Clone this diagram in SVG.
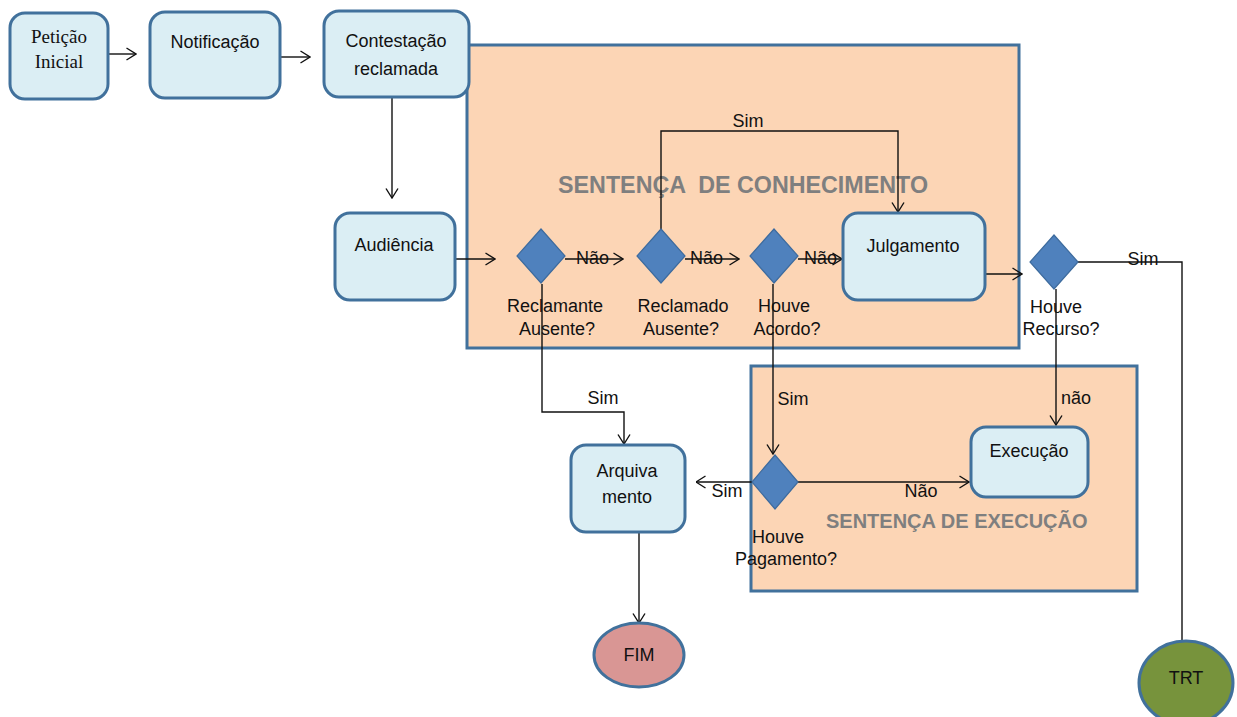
<svg xmlns="http://www.w3.org/2000/svg" width="1237" height="717" viewBox="0 0 1237 717">
<style>
.box{fill:#DBEEF4;stroke:#41719C;stroke-width:3}
.cont{fill:#FCD5B5;stroke:#41719C;stroke-width:3}
.dia{fill:#4F81BD;stroke:#3D6B9E;stroke-width:1.2}
.t{font-family:"Liberation Sans",Arial,sans-serif;font-size:18px;fill:#111}
.c{text-anchor:middle}
.serif{font-family:"Liberation Serif","Times New Roman",serif;font-size:19px;fill:#111}
.title{font-family:"Liberation Sans",Arial,sans-serif;font-weight:bold;fill:#7F7F7F;white-space:pre}
.ln{fill:none;stroke:#111;stroke-width:1.4}
.arr{marker-end:url(#ah)}
</style>
<defs>
<marker id="ah" viewBox="0 0 11 14" refX="10.5" refY="7" markerWidth="11" markerHeight="14" markerUnits="userSpaceOnUse" orient="auto">
<path d="M1,1 L10.5,7 L1,13" fill="none" stroke="#111" stroke-width="1.4"/>
</marker>
</defs>

<g id="sentenca-conhecimento">
<rect class="cont" x="467" y="45" width="552" height="303"/>
<text class="title" x="558" y="193" font-size="23" textLength="370" lengthAdjust="spacingAndGlyphs">SENTENÇA  DE CONHECIMENTO</text>
</g>
<g id="sentenca-execucao">
<rect class="cont" x="751" y="366" width="386" height="225"/>
<text class="title" x="826" y="528" font-size="20">SENTENÇA DE EXECUÇÃO</text>
</g>

<g id="connectors">
<path class="ln arr" d="M109,54 L136,54"/>
<path class="ln arr" d="M280,57 L310,57"/>
<path class="ln arr" d="M392,97 L392,198"/>
<path class="ln arr" d="M455,259 L495,259"/>
<path class="ln arr" d="M565,259 L623,259"/>
<text class="t" x="576" y="264">Não</text>
<path class="ln arr" d="M685,259 L739,259"/>
<text class="t" x="690" y="264">Não</text>
<path class="ln arr" d="M798,259 L842,259"/>
<text class="t" x="804" y="264">Não</text>
<path class="ln arr" d="M661,229 L661,131 L898,131 L898,212"/>
<text class="t c" x="748" y="127">Sim</text>
<path class="ln arr" d="M985,274 L1022,274"/>
<path class="ln" d="M1078,262 L1182,262 L1182,641"/>
<text class="t c" x="1143" y="265">Sim</text>
<path class="ln arr" d="M1056,289 L1056,425"/>
<text class="t" x="1061" y="404">não</text>
<path class="ln arr" d="M542,284 L542,412 L624,412 L624,444"/>
<text class="t c" x="603" y="404">Sim</text>
<path class="ln arr" d="M773,284 L773,454"/>
<text class="t c" x="793" y="405">Sim</text>
<path class="ln arr" d="M752,482 L696,482"/>
<text class="t c" x="727" y="497">Sim</text>
<path class="ln arr" d="M798,482 L969,482"/>
<text class="t c" x="921" y="497">Não</text>
<path class="ln arr" d="M639,532 L639,623"/>
</g>

<g id="peticao-inicial">
<rect class="box" x="10" y="13" width="98" height="86" rx="15"/>
<text class="serif c" x="59" y="43">Petição</text>
<text class="serif c" x="59" y="68">Inicial</text>
</g>
<g id="notificacao">
<rect class="box" x="150" y="12" width="130" height="86" rx="15"/>
<text class="t c" x="215" y="48">Notificação</text>
</g>
<g id="contestacao">
<rect class="box" x="324" y="11" width="145" height="86" rx="15"/>
<text class="t c" x="396" y="47">Contestação</text>
<text class="t c" x="396" y="75">reclamada</text>
</g>
<g id="audiencia">
<rect class="box" x="335" y="213" width="120" height="87" rx="15"/>
<text class="t c" x="394" y="251">Audiência</text>
</g>
<g id="reclamante-ausente">
<polygon class="dia" points="541,229 565,256 541,283 517,256"/>
<text class="t c" x="555" y="312">Reclamante</text>
<text class="t c" x="557" y="335">Ausente?</text>
</g>
<g id="reclamado-ausente">
<polygon class="dia" points="661,229 685,256 661,283 637,256"/>
<text class="t c" x="683" y="312">Reclamado</text>
<text class="t c" x="681" y="335">Ausente?</text>
</g>
<g id="houve-acordo">
<polygon class="dia" points="774,229 798,256 774,283 750,256"/>
<text class="t c" x="784" y="312">Houve</text>
<text class="t c" x="787" y="335">Acordo?</text>
</g>
<g id="julgamento">
<rect class="box" x="843" y="213" width="142" height="87" rx="15"/>
<text class="t c" x="913" y="252">Julgamento</text>
</g>
<g id="houve-recurso">
<polygon class="dia" points="1054,235 1078,262 1054,289 1030,262"/>
<text class="t c" x="1056" y="313">Houve</text>
<text class="t c" x="1061" y="335">Recurso?</text>
</g>
<g id="houve-pagamento">
<polygon class="dia" points="775,455 798,482 775,509 752,482"/>
<text class="t c" x="778" y="543">Houve</text>
<text class="t c" x="786" y="565">Pagamento?</text>
</g>
<g id="execucao">
<rect class="box" x="971" y="427" width="117" height="70" rx="15"/>
<text class="t c" x="1029" y="457">Execução</text>
</g>
<g id="arquivamento">
<rect class="box" x="571" y="445" width="114" height="87" rx="15"/>
<text class="t c" x="627" y="477">Arquiva</text>
<text class="t c" x="627" y="503">mento</text>
</g>
<g id="fim">
<ellipse cx="639" cy="655" rx="45" ry="32" fill="#D99694" stroke="#41719C" stroke-width="3"/>
<text class="t c" x="639" y="661" font-size="17">FIM</text>
</g>
<g id="trt">
<ellipse cx="1186" cy="683" rx="47" ry="42" fill="#77933C" stroke="#41719C" stroke-width="3"/>
<text class="t c" x="1186" y="684" font-size="17">TRT</text>
</g>
</svg>
